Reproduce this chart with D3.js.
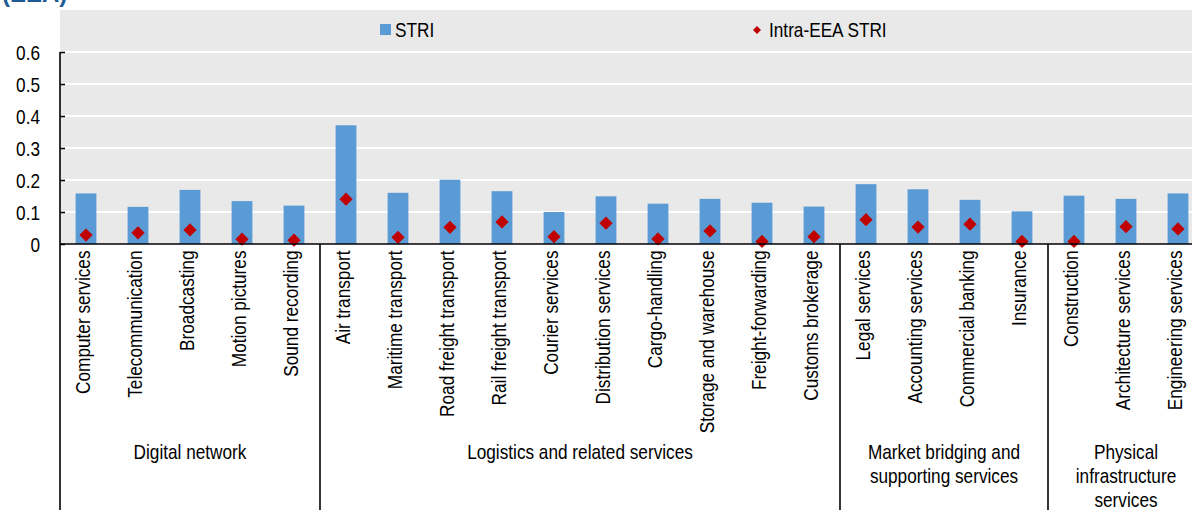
<!DOCTYPE html>
<html><head><meta charset="utf-8">
<script src="https://cdn.jsdelivr.net/npm/d3@7"></script>
<style>
body{margin:0;background:#fff;}
svg text{font-family:"Liberation Sans",Arial,sans-serif;fill:#000;}
</style></head>
<body><svg id="c" width="1192" height="510"></svg>
<script>
const categories = ["Computer services","Telecommunication","Broadcasting","Motion pictures","Sound recording",
 "Air transport","Maritime transport","Road freight transport","Rail freight transport","Courier services",
 "Distribution services","Cargo-handling","Storage and warehouse","Freight-forwarding","Customs brokerage",
 "Legal services","Accounting services","Commercial banking","Insurance",
 "Construction","Architecture services","Engineering services"];
const striValues = [0.158,0.116,0.169,0.134,0.120,
 0.371,0.160,0.201,0.165,0.100,0.149,0.126,0.141,0.129,0.117,
 0.187,0.171,0.138,0.102,
 0.151,0.141,0.158];
const intraValues = [0.028,0.035,0.044,0.015,0.012,
 0.140,0.021,0.052,0.069,0.023,0.065,0.016,0.041,0.008,0.023,
 0.076,0.053,0.062,0.008,
 0.008,0.054,0.047];
const groups = [
 {name:["Digital network"], size:5},
 {name:["Logistics and related services"], size:10},
 {name:["Market bridging and","supporting services"], size:4},
 {name:["Physical","infrastructure","services"], size:3}
];
const yTicks = [0,0.1,0.2,0.3,0.4,0.5,0.6];
const seriesNames = ["STRI","Intra-EEA STRI"];

(function(){
const svg = d3.select("#c");
const mLeft = 60, mRight = 1204, mTop = 52, mBottom = 244;
const FS = 21, NX = 0.82; // narrow font emulation
const x = d3.scaleBand().domain(categories).range([mLeft,mRight]).padding(0);
const y = d3.scaleLinear().domain([0,0.6]).range([mBottom,mTop]);
const barColor = "#5b9bd5", dotColor = "#c00000";

function ntext(parent, px, py, anchor, str){
  return parent.append("text").attr("transform",`translate(${px},${py}) scale(${NX},1)`)
    .attr("text-anchor",anchor).attr("font-size",FS).text(str);
}

// title fragment
svg.append("text").attr("x",2).attr("y",2).attr("font-size",24).attr("font-weight","bold")
  .style("fill","#1f5b93").text("(EEA)");

// background
svg.append("rect").attr("x",mLeft).attr("y",10).attr("width",1192-mLeft).attr("height",mBottom-10).attr("fill","#e9e9e9");

// gridlines
svg.append("g").selectAll("line").data(yTicks.filter(d=>d>0)).join("line")
  .attr("x1",mLeft).attr("x2",1192).attr("y1",d=>y(d)).attr("y2",d=>y(d))
  .attr("stroke","#fff").attr("stroke-width",2);

// bars
const bw = x.bandwidth()*0.4;
svg.append("g").selectAll("rect").data(categories).join("rect")
  .attr("x",(d)=>x(d)+x.bandwidth()/2-bw/2).attr("width",bw)
  .attr("y",(d,i)=>y(striValues[i])).attr("height",(d,i)=>y(0)-y(striValues[i]))
  .attr("fill",barColor);

// diamonds
const sym = d3.symbol(d3.symbolSquare, 88);
svg.append("g").selectAll("path").data(categories).join("path")
  .attr("d",sym)
  .attr("transform",(d,i)=>`translate(${x(d)+x.bandwidth()/2},${y(intraValues[i])}) rotate(45)`)
  .attr("fill",dotColor);

// y axis
const yAxis = d3.axisLeft(y).tickValues(yTicks).tickSize(-5).tickPadding(20)
  .tickFormat(d=>d===0?"0":d3.format(".1f")(d));
const ya = svg.append("g").attr("transform",`translate(${mLeft},0)`).call(yAxis);
ya.attr("font-family",null).attr("font-size",null);
ya.select(".domain").remove();
ya.selectAll(".tick line").attr("stroke","#000").attr("stroke-width",1.5);
ya.selectAll(".tick text").attr("font-size",FS).attr("x",null).attr("dy","0.35em")
  .attr("transform",`translate(-20,0) scale(${NX},1)`);
svg.append("line").attr("x1",mLeft).attr("x2",mLeft).attr("y1",mTop).attr("y2",510).attr("stroke","#000").attr("stroke-width",1.6);

// x axis line
svg.append("line").attr("x1",mLeft).attr("x2",1192).attr("y1",mBottom).attr("y2",mBottom).attr("stroke","#000").attr("stroke-width",1.6);

// category labels
svg.append("g").selectAll("text").data(categories).join("text")
  .attr("transform",d=>`translate(${x(d)+x.bandwidth()/2+4},250.5) rotate(-90) scale(${NX},1)`)
  .attr("text-anchor","end").attr("font-size",FS).text(d=>d);

// group separators and labels
let start = 0;
groups.forEach((g,gi)=>{
  const x0 = x(categories[start]);
  const lastCat = categories[start+g.size-1];
  const x1 = x(lastCat)+x.bandwidth();
  if(gi>0){
    svg.append("line").attr("x1",x0).attr("x2",x0).attr("y1",mBottom).attr("y2",510)
      .attr("stroke","#000").attr("stroke-width",1.6);
  }
  g.name.forEach((ln,li)=>{
    ntext(svg,(x0+x1)/2,459+li*24,"middle",ln);
  });
  start += g.size;
});

// legend
svg.append("rect").attr("x",380).attr("y",24).attr("width",11).attr("height",11).attr("fill",barColor);
ntext(svg,395,36.5,"start",seriesNames[0]);
svg.append("path").attr("d",d3.symbol(d3.symbolSquare,32)).attr("transform","translate(757,30) rotate(45)").attr("fill",dotColor);
ntext(svg,769,36.5,"start",seriesNames[1]);
})();
</script></body></html>
